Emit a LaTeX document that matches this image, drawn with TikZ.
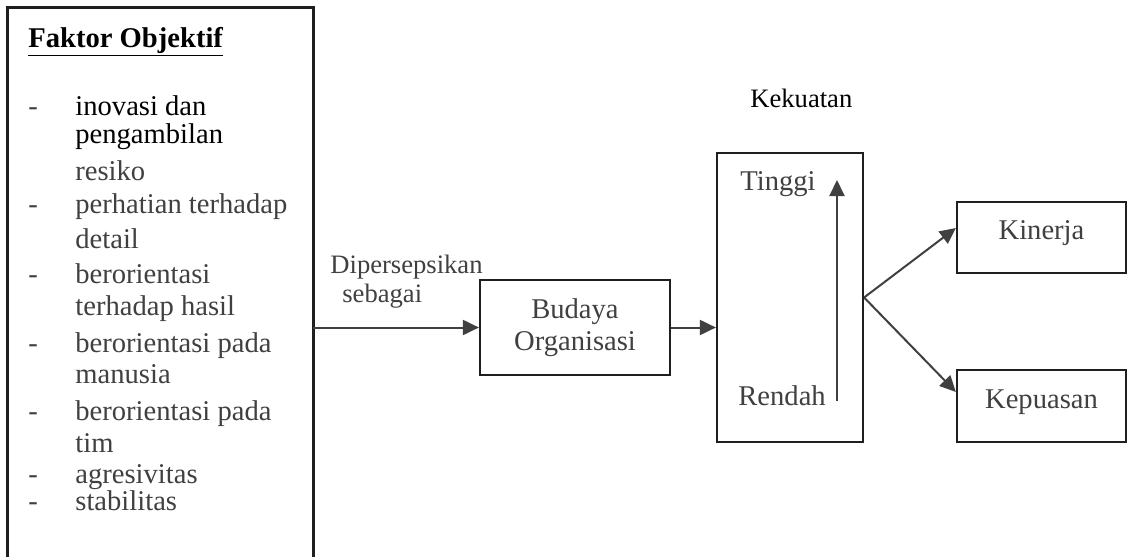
\documentclass[tikz,border=0pt]{standalone}
\usepackage{fontspec}
\setmainfont{Liberation Serif}
\usetikzlibrary{arrows.meta,calc}
\definecolor{txt}{gray}{0.25}
\definecolor{ln}{gray}{0.12}
\definecolor{arr}{gray}{0.25}
\begin{document}
\begin{tikzpicture}[x=0.5pt,y=-0.5pt,
  box/.style={draw=ln, line width=1.1pt, inner sep=0pt},
  fs/.style={font=\fontsize{14.3pt}{16pt}\selectfont},
  fsm/.style={font=\fontsize{13.3pt}{15pt}\selectfont},
  lab/.style={fs, text=txt, inner sep=0pt, anchor=base west},
  conn/.style={draw=arr, line width=1pt, -{Triangle[length=8pt,width=7.5pt]}},
]
\useasboundingbox[fill=white] (0,0) rectangle (1132,557);

% left box (open at the bottom, cut by the page edge)
\node[inner sep=0pt, minimum width=152.5pt, minimum height=274.5pt] (faktor) at (160.5,282.5) {};
\draw[ln, line width=1.3pt] (faktor.south west) -- (faktor.north west) -- (faktor.north east) -- (faktor.south east);

\node[lab, text=black, font=\fontsize{14.3pt}{16pt}\selectfont\bfseries] (title) at (28,47) {\underline{Faktor Objektif}};

\foreach \y/\t/\c [count=\i] in {
  115/inovasi dan/black,
  143/pengambilan/black,
  180/resiko/txt,
  213/perhatian terhadap/txt,
  248/detail/txt,
  283/berorientasi/txt,
  315/terhadap hasil/txt,
  352/berorientasi pada/txt,
  383/manusia/txt,
  420/berorientasi pada/txt,
  452/tim/txt,
  483/agresivitas/txt,
  510/stabilitas/txt}
  \node[lab, text=\c] (l\i) at (75,\y) {\t};

\foreach \y [count=\i] in {115,213,283,352,420,483,510}
  \node[lab] (d\i) at (28,\y) {-};

% perceived as
\node[lab, fsm] (dip1) at (330,273) {Dipersepsikan};
\node[lab, fsm] (dip2) at (342,302) {sebagai};

% organisational culture
\node[box, minimum width=95pt, minimum height=47.5pt, fs, text=txt, align=center] (budaya) at (575,327.5) {Budaya\\Organisasi};

% strength
\node[lab, fsm, text=black] (kekl) at (750,107) {Kekuatan};
\node[box, minimum width=73pt, minimum height=144.5pt] (kek) at (790,297.5) {};
\node[lab] (tinggi) at (740,190) {Tinggi};
\node[lab] (rendah) at (738,405) {Rendah};
\coordinate (lo) at (837,401);
\coordinate (hi) at (837,180);
\draw[conn] (lo) -- (hi);

% outcomes
\node[box, minimum width=84.5pt, minimum height=35.5pt, fs, text=txt, text height=7pt, text depth=5pt] (kinerja) at (1041.5,237.5) {Kinerja};
\node[box, minimum width=84.5pt, minimum height=36pt, fs, text=txt, text height=7pt, text depth=5pt] (kepuasan) at (1041.5,406) {Kepuasan};

% connectors
\draw[conn] (budaya.west -| faktor.east) -- (budaya.west);
\draw[conn] (budaya.east) -- (budaya.east -| kek.west);
\draw[conn] (kek.east) -- ([yshift=4.75pt]kinerja.west);
\draw[conn] (kek.east) -- ([yshift=7pt]kepuasan.west);
\end{tikzpicture}
\end{document}
